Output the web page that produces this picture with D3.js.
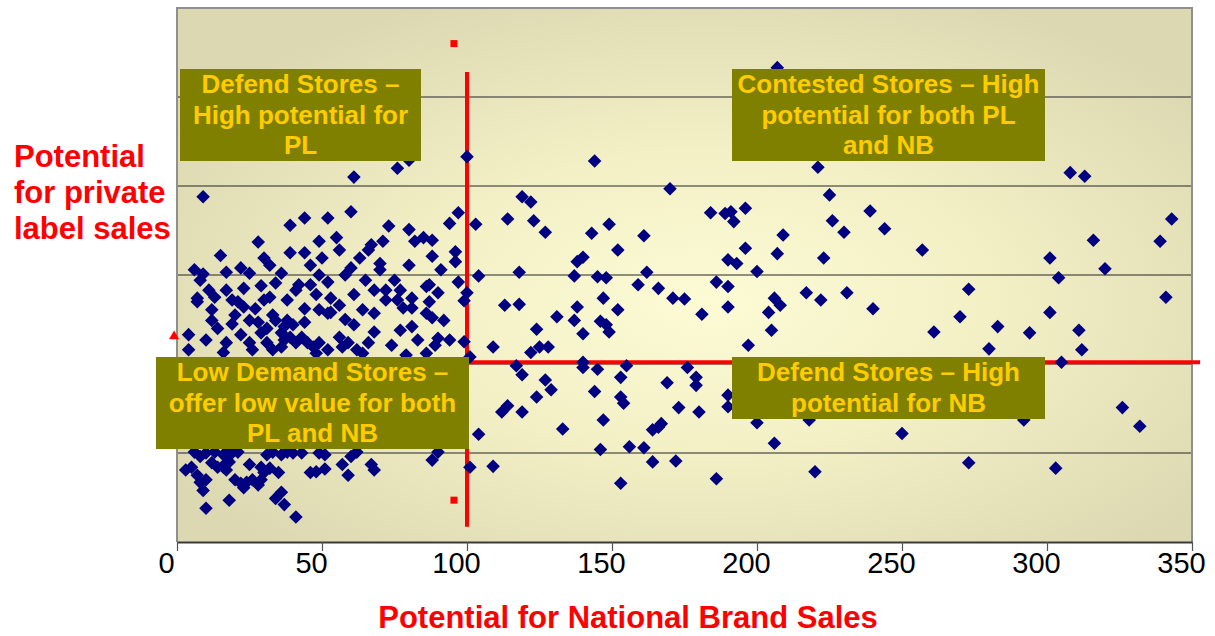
<!DOCTYPE html>
<html>
<head>
<meta charset="utf-8">
<script src="https://cdn.jsdelivr.net/npm/d3@7"></script>
<style>
  body { margin: 0; background: #ffffff; }
  svg { display: block; font-family: "Liberation Sans", Arial, sans-serif; }
</style>
</head>
<body>
<svg id="chart" width="1215" height="636"></svg>
<script>
// ---- data ---------------------------------------------------------------
// Axis ticks for national-brand potential
const xTicks = [0, 50, 100, 150, 200, 250, 300, 350];
// Horizontal reference grid for private-label potential (no labels shown)
const plGrid = [100, 200, 300, 400, 500];

// Each store: [national brand potential, private label potential]
const stores = [
  [207,533],[100,433],[144,428],[170,397],[221,421],[308,415],[313,411],[225,390],[119,388],[122,382],
  [103,357],[114,363],[123,361],[127,348],[118,303],[143,347],[149,357],[152,328],[140,320],[138,315],
  [161,344],[162,303],[166,285],[137,299],[145,298],[148,297],[159,289],[184,370],[189,369],[191,371],
  [192,360],[196,375],[209,345],[207,324],[196,330],[190,317],[193,313],[200,304],[186,292],[190,287],
  [206,274],[171,274],[175,273],[147,274],[104,299],[100,280],[99,271],[113,266],[118,267],[138,264],
  [152,261],[131,253],[137,249],[124,239],[146,248],[148,244],[140,234],[149,236],[181,256],[190,264],
  [204,258],[205,238],[208,266],[197,221],[99,225],[101,208],[109,219],[122,213],[125,219],[128,219],
  [117,198],[119,188],[140,202],[140,196],[145,194],[155,198],[153,185],[127,182],[129,171],[124,163],
  [144,169],[153,163],[154,156],[169,179],[176,196],[179,185],[179,176],[112,146],[114,153],[119,146],
  [133,127],[147,137],[164,126],[166,129],[167,133],[173,151],[180,146],[104,121],[146,104],[156,107],
  [161,106],[164,90],[172,91],[101,84],[109,85],[153,66],[186,71],[206,111],[220,79],[200,134],
  [190,165],[190,152],[218,137],[222,272],[240,262],[261,236],[270,253],[283,242],[294,235],[280,217],
  [301,258],[311,238],[312,216],[305,202],[326,151],[332,130],[250,122],[273,89],[303,83],[341,275],
  [292,137],[239,372],[244,352],[230,348],[226,361],[223,319],[217,280],[231,280],[257,328],[301,319],
  [304,297],[316,339],[320,307],[339,338],[343,363],[273,284],
  [9,388],[61,410],[76,420],[80,429],[28,337],[44,364],[52,364],[60,371],[49,338],[55,342],
  [30,319],[39,325],[44,325],[56,328],[73,355],[67,334],[71,338],[80,351],[82,338],[85,342],
  [88,339],[70,313],[80,311],[88,321],[63,319],[9,301],[8,294],[17,303],[22,308],[25,302],
  [32,311],[36,302],[46,311],[50,319],[52,292],[60,308],[58,300],[65,294],[7,274],[13,275],
  [17,283],[23,285],[29,288],[34,291],[41,283],[38,272],[48,278],[53,274],[61,278],[72,283],
  [76,272],[81,274],[94,358],[97,370],[96,326],[96,315],[97,292],[77,283],[86,287],[87,289],
  [90,280],[19,272],[32,275],[42,289],[68,283],[70,306],[75,294],[91,306],[66,328],[39,356],
  [15,322],[6,306],
  [7,270],[12,261],[12,249],[19,245],[21,270],[23,264],[25,249],[28,247],[22,233],[17,224],
  [16,213],[4,216],[29,235],[31,240],[33,255],[34,249],[36,235],[37,242],[25,224],[26,216],
  [31,224],[33,216],[36,219],[37,227],[39,230],[41,224],[43,230],[38,249],[40,244],[44,247],
  [45,224],[47,219],[48,212],[49,224],[52,216],[49,261],[52,257],[53,258],[56,266],[56,230],
  [59,224],[62,216],[64,212],[66,224],[68,257],[68,236],[72,272],[78,263],[81,263],[81,242],
  [86,257],[88,252],[87,270],[89,221],[90,229],[79,210],[86,212],[57,219],
  [4,233],[10,227],[11,283],[49,300],[46,289],[64,261],[61,244],[77,238],[83,227],[74,221],
  [92,249],[94,227],[30,272],[14,240],[20,255],[27,262],[44,262],[58,250],
  [6,101],[8,96],[10,100],[13,101],[16,98],[17,101],[19,100],[21,101],[3,81],[5,84],
  [7,75],[8,67],[10,70],[9,58],[12,89],[14,84],[16,84],[17,89],[18,90],[17,81],
  [10,38],[18,47],[20,70],[22,66],[23,61],[24,67],[26,70],[28,64],[25,87],[29,84],
  [30,78],[32,83],[29,70],[34,49],[36,56],[37,42],[41,28],[35,78],[31,98],[33,101],
  [36,98],[38,101],[40,100],[43,100],[46,78],[48,79],[49,100],[51,98],[51,82],[57,87],
  [59,75],[60,96],[62,101],[67,87],[68,81],[88,92],[90,101]
];

// Quadrant dividers
const nbCut = 100;            // vertical divider (national brand)
const plCut = 202;            // horizontal divider (private label)
const nbCutSpan = [17, 528];  // vertical extent of the NB divider
const plCutEnd = 352.8;       // right end of the PL divider
// Divider end markers
const cutMarkers = [[95.5, 560], [95.5, 47]];
const axisMarker = [-1, 231];

// Quadrant captions
const captions = [
  ["Defend Stores \u2013", "High potential for", "PL"],
  ["Contested Stores \u2013 High", "potential for both PL", "and NB"],
  ["Low Demand Stores \u2013", "offer low value for both", "PL and NB"],
  ["Defend Stores \u2013 High", "potential for NB"]
];
const xTitle = "Potential for National Brand Sales";
const yTitle = ["Potential", "for private", "label sales"];

// ---- drawing ------------------------------------------------------------
const svg = d3.select("#chart");
const plot = { left: 177, right: 1192, top: 8, bottom: 542 };

const x = d3.scaleLinear().domain([0, 350]).range([plot.left, plot.right]);
const y = d3.scaleLinear().domain([0, 600]).range([plot.bottom, plot.top]);

// background gradient
const defs = svg.append("defs");
const grad = defs.append("radialGradient")
  .attr("id", "plotBg").attr("cx", "0.52").attr("cy", "0.55").attr("r", "0.62");
grad.append("stop").attr("offset", "0%").attr("stop-color", "#fcfbd4");
grad.append("stop").attr("offset", "45%").attr("stop-color", "#f3f0c6");
grad.append("stop").attr("offset", "100%").attr("stop-color", "#dcd8b1");

svg.append("rect")
  .attr("x", plot.left).attr("y", plot.top)
  .attr("width", plot.right - plot.left).attr("height", plot.bottom - plot.top)
  .attr("fill", "url(#plotBg)");

// grid lines
svg.append("g").selectAll("line").data(plGrid).join("line")
  .attr("x1", plot.left).attr("x2", plot.right)
  .attr("y1", d => y(d)).attr("y2", d => y(d))
  .attr("stroke", "#262626").attr("stroke-width", 1.2);

// frame (top, left, right)
svg.append("path")
  .attr("d", `M${plot.left},${plot.bottom} V${plot.top} H${plot.right} V${plot.bottom}`)
  .attr("fill", "none").attr("stroke", "#8f8f8f").attr("stroke-width", 2);

// x axis
const xAxis = d3.axisBottom(x).tickValues(xTicks).tickSize(9).tickSizeOuter(0).tickFormat(d3.format("d"));
const gx = svg.append("g").attr("transform", `translate(0,${plot.bottom})`).call(xAxis);
gx.select(".domain").attr("stroke", "#3a3a3a").attr("stroke-width", 2);
gx.selectAll(".tick line").attr("stroke", "#555").attr("stroke-width", 1.2);
gx.selectAll(".tick text")
  .attr("font-family", "Liberation Sans, Arial, sans-serif")
  .attr("font-size", 29).attr("fill", "#000")
  .attr("x", -11).attr("y", 31).attr("dy", 0);

// quadrant divider lines (under the points)
svg.append("line")
  .attr("x1", x(nbCut)).attr("x2", x(nbCut))
  .attr("y1", y(nbCutSpan[1])).attr("y2", y(nbCutSpan[0]))
  .attr("stroke", "#ff0000").attr("stroke-width", 4);
svg.append("line")
  .attr("x1", x(nbCut)).attr("x2", x(plCutEnd))
  .attr("y1", y(plCut)).attr("y2", y(plCut))
  .attr("stroke", "#ff0000").attr("stroke-width", 4);

// divider end markers
svg.append("g").selectAll("rect").data(cutMarkers).join("rect")
  .attr("x", d => x(d[0]) - 3.5).attr("y", d => y(d[1]) - 3.5)
  .attr("width", 7).attr("height", 7).attr("fill", "#ff0000");
svg.append("path")
  .attr("transform", `translate(${x(axisMarker[0])},${y(axisMarker[1])})`)
  .attr("d", d3.symbol(d3.symbolTriangle, 45)())
  .attr("fill", "#ff0000");

// store points
const diamond = d3.symbol(d3.symbolSquare, 92)();
svg.append("g").selectAll("path").data(stores).join("path")
  .attr("transform", d => `translate(${x(d[0])},${y(d[1])}) rotate(45)`)
  .attr("d", diamond)
  .attr("fill", "#000080");

// quadrant captions
const boxes = [
  { x0: 180, x1: 421, y0: 69, y1: 161 },
  { x0: 732, x1: 1045, y0: 69, y1: 161 },
  { x0: 156, x1: 469, y0: 357, y1: 449 },
  { x0: 732, x1: 1045, y0: 357, y1: 419 }
];
const gBox = svg.append("g");
captions.forEach((lines, i) => {
  const b = boxes[i];
  gBox.append("rect")
    .attr("x", b.x0).attr("y", b.y0)
    .attr("width", b.x1 - b.x0).attr("height", b.y1 - b.y0)
    .attr("fill", "#808000");
  gBox.append("text")
    .attr("x", (b.x0 + b.x1) / 2).attr("y", b.y0 + 24)
    .attr("text-anchor", "middle")
    .attr("font-size", 26).attr("font-weight", "bold").attr("fill", "#ffcc00")
    .selectAll("tspan").data(lines).join("tspan")
    .attr("x", (b.x0 + b.x1) / 2)
    .attr("dy", (d, j) => j === 0 ? 0 : 30.5)
    .text(d => d);
});

// axis titles
svg.append("text")
  .attr("x", 628).attr("y", 628)
  .attr("text-anchor", "middle")
  .attr("font-size", 31).attr("font-weight", "bold").attr("fill", "#ff0000")
  .text(xTitle);

svg.append("text")
  .attr("x", 14).attr("y", 167)
  .attr("font-size", 31).attr("font-weight", "bold").attr("fill", "#ff0000")
  .selectAll("tspan").data(yTitle).join("tspan")
  .attr("x", 14)
  .attr("dy", (d, j) => j === 0 ? 0 : 36)
  .text(d => d);
</script>
</body>
</html>
